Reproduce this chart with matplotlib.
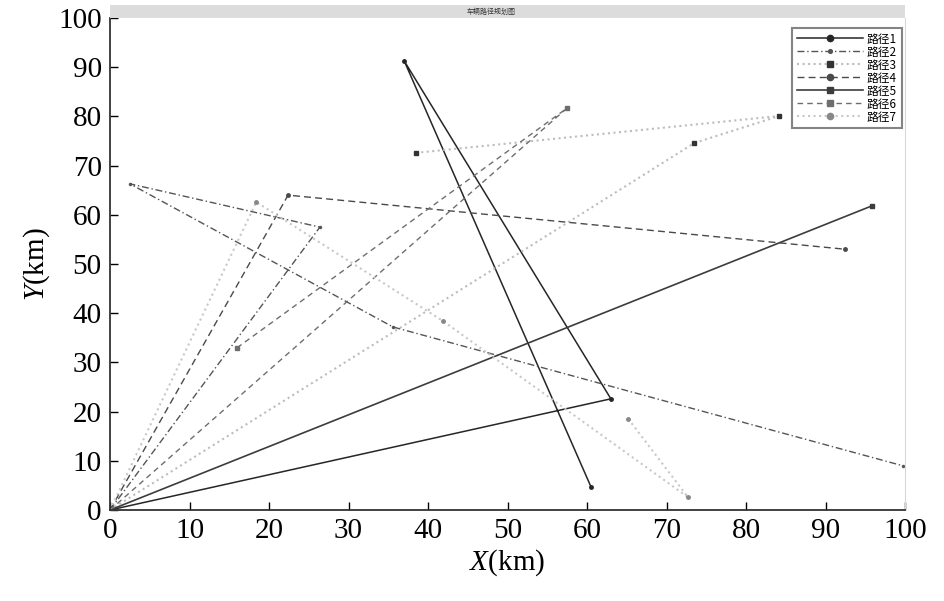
import matplotlib.pyplot as plt
from matplotlib.patches import Rectangle

plt.rcParams['font.family'] = ['Liberation Serif', 'Noto Sans CJK SC', 'DejaVu Sans']
plt.rcParams['mathtext.fontset'] = 'custom'
plt.rcParams['mathtext.it'] = 'Liberation Serif:italic'
plt.rcParams['mathtext.rm'] = 'Liberation Serif'

# route coordinates (km), every route leaves the depot at (0, 0)
route_names = ['路径1', '路径2', '路径3', '路径4', '路径5', '路径6', '路径7']
route_x = [
    [0, 63.0, 37.0, 60.5],
    [0, 26.4, 2.5, 35.6, 99.7],
    [0, 73.5, 84.2, 38.5],
    [0, 22.4, 92.5],
    [0, 95.8],
    [0, 57.5, 16.0],
    [0, 18.4, 41.9, 72.7, 65.2],
]
route_y = [
    [0, 22.6, 91.3, 4.7],
    [0, 57.5, 66.3, 37.2, 9.0],
    [0, 74.6, 80.1, 72.6],
    [0, 64.0, 53.0],
    [0, 61.8],
    [0, 81.7, 33.0],
    [0, 62.6, 38.4, 2.6, 18.5],
]
styles = [
    dict(color='#262626', ls='-', lw=1.1, marker='o', ms=2.5),
    dict(color='#555555', ls=(0, (5, 2, 1, 2)), lw=1.0, marker='.', ms=3),
    dict(color='#bdbdbd', ls=':', lw=1.5, marker='s', ms=2.5, mfc='#333333', mec='#333333'),
    dict(color='#4a4a4a', ls=(0, (5, 3)), lw=1.0, marker='o', ms=2.5),
    dict(color='#3c3c3c', ls='-', lw=1.2, marker='s', ms=2.5),
    dict(color='#6e6e6e', ls=(0, (4, 3)), lw=1.0, marker='s', ms=2.5),
    dict(color='#c8c8c8', ls=':', lw=1.5, marker='o', ms=2.5, mfc='#888888', mec='#888888'),
]

fig = plt.figure(figsize=(9.45, 6.01), dpi=100)
ax = fig.add_axes([0.1164, 0.1514, 0.8413, 0.8186])

for xs, ys, name, st in zip(route_x, route_y, route_names, styles):
    ax.plot(xs, ys, label=name, **st)

ax.set_xlim(0, 100)
ax.set_ylim(0, 100)
ax.set_xticks(range(0, 101, 10))
ax.set_yticks(range(0, 101, 10))
ax.tick_params(direction='in', length=6, width=1, labelsize=21, pad=6)
ax.spines['top'].set_visible(False)
ax.spines['right'].set_color('#d8d8d8')
for s in ('left', 'bottom'):
    ax.spines[s].set_linewidth(1.3)
    ax.spines[s].set_color('#333333')

ax.set_xlabel('$X$(km)', fontsize=21, labelpad=2)
ax.set_ylabel('$Y$(km)', fontsize=21, labelpad=4)

# grey title bar of the original figure window
fig.patches.append(Rectangle((0.1164, 0.9700), 0.8413, 0.0216, transform=fig.transFigure,
                             facecolor='#dcdcdc', edgecolor='none'))
fig.text(0.52, 0.9805, '车辆路径规划图', fontsize=5, ha='center', va='center',
         family=['Noto Sans CJK SC', 'DejaVu Sans'], color='#333333')

leg = ax.legend(loc='upper right', bbox_to_anchor=(1.003, 0.992),
                prop={'family': ['Noto Sans CJK SC', 'DejaVu Sans'], 'size': 8.5},
                frameon=True, fancybox=False, edgecolor='#666666', handlelength=5.6,
                labelspacing=0.0, borderpad=0.4, handletextpad=0.3, markerscale=1.8)
leg.get_frame().set_linewidth(1.5)

fig.savefig('out.png', dpi=100)
